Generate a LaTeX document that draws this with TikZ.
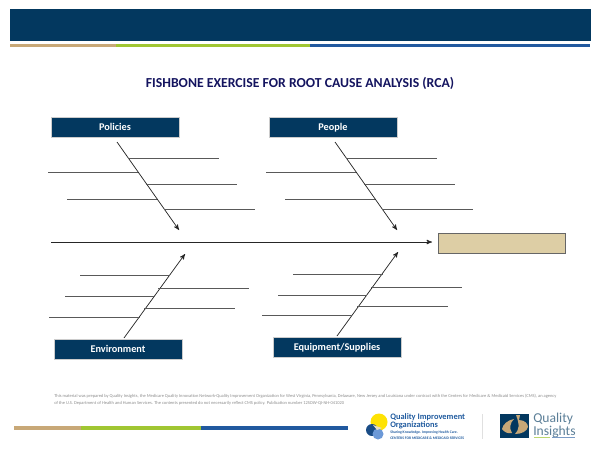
\documentclass[tikz,border=0pt]{standalone}
\usepackage{fontspec}
\setmainfont{Carlito}
\usepackage{tikz}
\usetikzlibrary{arrows,positioning}
\definecolor{navy}{HTML}{03385F}
\definecolor{titleblue}{HTML}{14145F}
\definecolor{barktan}{HTML}{C8A877}
\definecolor{leaf}{HTML}{A0C632}
\definecolor{deepblue}{HTML}{21599F}
\definecolor{sand}{HTML}{DDCEA5}
\definecolor{qiotext}{HTML}{1F5A9E}
\tikzstyle{cause}=[draw=white!80!black,fill=navy,text=white,font=\bfseries\fontsize{7.7}{9}\selectfont,minimum width=96pt,minimum height=15pt,inner sep=0pt,line width=.4pt,text height=6.8pt,text depth=1.6pt]
\tikzstyle{bone}=[draw=black!85,line width=.55pt,-stealth']
\tikzstyle{rib}=[draw=black!65,line width=.65pt]
\tikzstyle{band}=[inner sep=0pt,outer sep=0pt,minimum height=2.7pt]
\begin{document}
\begin{tikzpicture}[x=.75pt,y=-.75pt]
  \useasboundingbox (0,0) rectangle (600,464);
  % header
  \node[fill=navy,inner sep=0pt,anchor=north west,minimum width=435.75pt,minimum height=24.4pt] (header) at (10,8.5) {};
  \node[band,anchor=north west,fill=barktan,minimum width=79.5pt] (bartan) at (10,43.7) {};
  \node[band,fill=leaf,minimum width=145.5pt] (barleaf) [right=0pt of bartan] {};
  \node[band,fill=deepblue,minimum width=210pt] (barblue) [right=0pt of barleaf] {};
  \node[text=titleblue,font=\bfseries\fontsize{10.3}{12}\selectfont] (title) at (300,83) {FISHBONE EXERCISE FOR ROOT CAUSE ANALYSIS (RCA)};

  % causes
  \node[cause] (policies) at (115,127) {Policies};
  \node[cause] (people) at (333,127) {People};
  \node[cause] (environment) at (118,349) {Environment};
  \node[cause] (equipment) at (337,347.5) {Equipment/Supplies};
  \node[draw=black!60,fill=sand,minimum width=95.5pt,minimum height=15pt,inner sep=0pt] (effect) at (502,243) {};

  % spine
  \coordinate (tail) at (51,242);
  \coordinate (head) at (432,242);
  \draw[bone] (tail) -- (head);

  % bones
  \foreach \n/\xa/\ya/\xb/\yb in {p/117/142/179/230,q/335/142/397/230,e/124/338/185/254,s/337/336/398/252}{
    \coordinate (\n0) at (\xa,\ya);
    \coordinate (\n1) at (\xb,\yb);
    \draw[bone] (\n0) -- (\n1);
  }

  % ribs
  \foreach \n/\xa/\xb/\y in {1/128/219/158,2/48/138/172.5,3/146/237/184,4/67/157/199,5/164/255/209,
    6/346/437/158,7/266/356/172.5,8/364/455/184,9/285/375/199,10/382/473/209,
    11/80/170/275.5,12/65/155/296.5,13/49/140/317.5,14/158/249/288.5,15/144/234.5/308,
    16/293/383/274,17/278/367/295,18/262/352/315.5,19/371/462/287,20/357/447.5/306}{
    \coordinate (r\n a) at (\xa,\y);
    \coordinate (r\n b) at (\xb,\y);
    \draw[rib] (r\n a) -- (r\n b);
  }

  % footer
  \node[text=black!45,font=\fontsize{3.35}{5.4}\selectfont,align=left,anchor=north west,inner sep=0pt] (note) at (54,394) {This material was prepared by Quality Insights, the Medicare Quality Innovation Network-Quality Improvement Organization for West Virginia, Pennsylvania, Delaware, New Jersey and Louisiana under contract with the Centers for Medicare \& Medicaid Services (CMS), an agency\\of the U.S. Department of Health and Human Services. The contents presented do not necessarily reflect CMS policy. Publication number 12SOW-QI-NH-041020};
  \node[band,anchor=north west,fill=barktan,minimum width=50.25pt] (foottan) at (14,426) {};
  \node[band,fill=leaf,minimum width=90pt] (footleaf) [right=0pt of foottan] {};
  \node[band,fill=deepblue,minimum width=110pt] (footblue) [right=0pt of footleaf] {};

  % logos
  \fill[yellow!85!orange] (379,422) circle (8.5);
  \fill[qiotext!85!black] (372,430) circle (6);
  \fill[cyan!50!blue!60] (378,434) circle (5.5);
  \fill[sand!70] (373,425) -- (382,428) -- (377,430) -- cycle;
  \node[text=qiotext,font=\bfseries\fontsize{6.3}{6.6}\selectfont,align=left,anchor=north west,inner sep=0pt] (qio) at (390,413) {Quality Improvement\\Organizations};
  \node[text=qiotext,font=\bfseries\fontsize{2.8}{4.5}\selectfont,align=left,anchor=north west,inner sep=0pt] (qiosub) at (390,431) {Sharing Knowledge. Improving Health Care.\\CENTERS FOR MEDICARE \& MEDICAID SERVICES};
  \draw[black!12] (482,414) -- (482,439);
  \fill[navy] (500,414) rectangle (529,438);
  \fill[barktan] (502,429) .. controls (503,424) and (508,420) .. (514,419) .. controls (510,423) and (509,428) .. (512,433) .. controls (508,434) and (504,432) .. (502,429) -- cycle;
  \fill[barktan] (516,415) -- (520,415) -- (519,420) .. controls (525,420) and (528,424) .. (528,427) .. controls (527,431) and (522,434) .. (515,434) .. controls (519,430) and (520,425) .. (516,415) -- cycle;
  \node[text=navy!65,font=\fontsize{10.2}{8.7}\selectfont,align=left,anchor=north west,inner sep=0pt] (insights) at (533,413) {Quality\\Insights};
  \draw[leaf!70,line width=.6pt] (534,437.5) -- (550,437.5);
  \draw[deepblue!60,line width=.6pt] (552,437.5) -- (575,437.5);
\end{tikzpicture}
\end{document}
